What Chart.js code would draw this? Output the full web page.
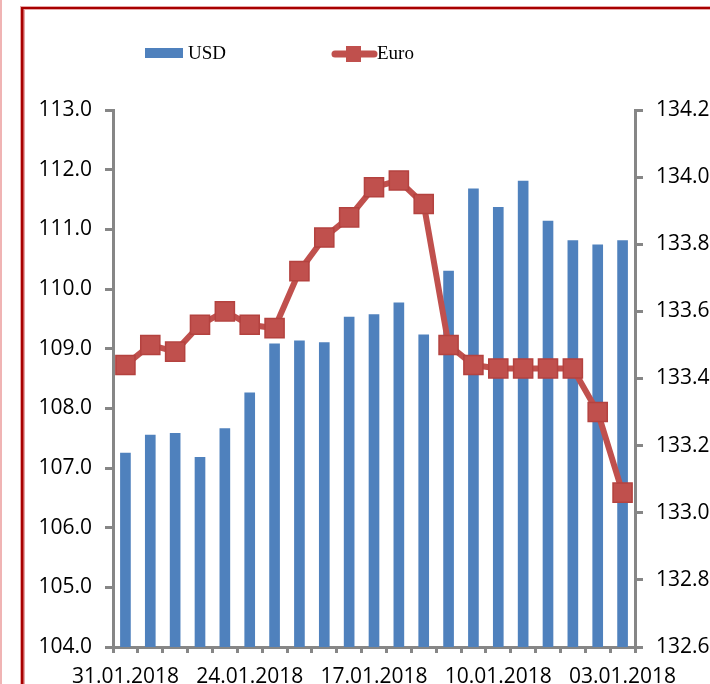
<!DOCTYPE html>
<html>
<head>
<meta charset="utf-8">
<script src="https://cdn.jsdelivr.net/npm/chart.js@4"></script>
<style>
    html, body { margin: 0; padding: 0; background: #fff; }
    canvas { display: block; }
</style>
</head>
<body>
<canvas id="rateChart" width="710" height="684"></canvas>
<script>
// Dates (newest first, as in the original)
const categories = ['31.01.2018', '30.01.2018', '29.01.2018', '26.01.2018', '25.01.2018',
    '24.01.2018', '23.01.2018', '22.01.2018', '19.01.2018', '18.01.2018',
    '17.01.2018', '16.01.2018', '15.01.2018', '12.01.2018', '11.01.2018',
    '10.01.2018', '09.01.2018', '08.01.2018', '05.01.2018', '04.01.2018', '03.01.2018'];

// USD rate (left axis)
const usdValues = [107.25, 107.55, 107.58, 107.18, 107.66, 108.26, 109.08, 109.13, 109.10, 109.53,
    109.57, 109.77, 109.23, 110.30, 111.68, 111.37, 111.81, 111.14, 110.81, 110.74, 110.81];

// Euro rate (right axis)
const euroValues = [133.44, 133.50, 133.48, 133.56, 133.60, 133.56, 133.55, 133.72, 133.82, 133.88,
    133.97, 133.99, 133.92, 133.50, 133.44, 133.43, 133.43, 133.43, 133.43, 133.30, 133.06];

const leftTicks = { min: 104, max: 113, step: 1 };
const rightTicks = { min: 132.6, max: 134.2, step: 0.2 };
const seriesNames = ['USD', 'Euro'];

const blue = '#4f81bd';
const red = '#c0504d';
const axisGrey = '#868686';
const tickFont = { family: 'Open Sans', size: 21 };

// Frame around the picture
const framePlugin = {
    id: 'frame',
    beforeDraw(chart) {
        const ctx = chart.ctx;
        ctx.save();
        ctx.fillStyle = '#fff';
        ctx.fillRect(0, 0, chart.width, chart.height);
        ctx.fillStyle = '#f0b4b4';
        ctx.fillRect(0, 0, 2, chart.height);
        ctx.fillStyle = '#e8a8a8';
        ctx.fillRect(20, 6, chart.width, 4);
        ctx.fillRect(20, 6, 5, chart.height);
        ctx.fillStyle = '#a80000';
        ctx.fillRect(21, 7, chart.width, 2);
        ctx.fillRect(21, 7, 2.5, chart.height);
        ctx.restore();
    }
};

// Legend drawn by hand to keep Excel's spacing
const legendPlugin = {
    id: 'handLegend',
    afterDraw(chart) {
        const ctx = chart.ctx;
        ctx.save();
        ctx.font = '19px "Liberation Serif"';
        ctx.textBaseline = 'middle';

        ctx.fillStyle = blue;
        ctx.fillRect(145, 48, 38, 10);
        ctx.fillStyle = '#000';
        ctx.fillText(seriesNames[0], 188, 54);

        ctx.strokeStyle = red;
        ctx.lineWidth = 7;
        ctx.lineCap = 'round';
        ctx.beginPath();
        ctx.moveTo(335, 54);
        ctx.lineTo(374, 54);
        ctx.stroke();
        ctx.fillStyle = red;
        ctx.fillRect(346, 46, 15, 16);
        ctx.fillStyle = '#000';
        ctx.fillText(seriesNames[1], 377, 54);
        ctx.restore();
    }
};

const ctx = document.getElementById('rateChart').getContext('2d');
const rateChart = new Chart(ctx, {
    data: {
        labels: categories,
        datasets: [
            {
                type: 'line',
                label: seriesNames[1],
                data: euroValues,
                yAxisID: 'y1',
                order: 0,
                borderColor: red,
                borderWidth: 6,
                tension: 0,
                pointStyle: 'rect',
                pointRadius: 13.5,
                pointBorderWidth: 1.5,
                pointBackgroundColor: red,
                pointBorderColor: '#b4423f'
            },
            {
                type: 'bar',
                label: seriesNames[0],
                data: usdValues,
                yAxisID: 'y',
                order: 1,
                backgroundColor: blue,
                barThickness: 10
            }
        ]
    },
    options: {
        responsive: false,
        animation: false,
        devicePixelRatio: 1,
        layout: { padding: { top: 110, left: 0, right: 0, bottom: 0 } },
        plugins: {
            legend: { display: false },
            tooltip: { enabled: false }
        },
        scales: {
            x: {
                offset: true,
                grid: { display: true, offset: true, drawOnChartArea: false, drawTicks: true, tickLength: 6, color: axisGrey, lineWidth: 3 },
                border: { color: axisGrey, width: 3 },
                ticks: {
                    autoSkip: false,
                    maxRotation: 0,
                    padding: 11,
                    color: '#000',
                    font: tickFont,
                    callback: function (value, index) {
                        return index % 5 === 0 ? this.getLabelForValue(value) : '';
                    }
                },
                afterFit: s => { s.height = 37; }
            },
            y: {
                position: 'left',
                min: leftTicks.min,
                max: leftTicks.max,
                grid: { drawOnChartArea: false, tickLength: 8, color: axisGrey, lineWidth: 3 },
                border: { color: axisGrey, width: 3 },
                ticks: {
                    stepSize: leftTicks.step,
                    padding: 13,
                    color: '#000',
                    font: tickFont,
                    callback: v => Number(v).toFixed(1)
                },
                afterFit: s => { s.width = 113; }
            },
            y1: {
                position: 'right',
                min: rightTicks.min,
                max: rightTicks.max,
                grid: { drawOnChartArea: false, tickLength: 8, color: axisGrey, lineWidth: 3 },
                border: { color: axisGrey, width: 3 },
                ticks: {
                    stepSize: rightTicks.step,
                    padding: 13,
                    color: '#000',
                    font: tickFont,
                    callback: v => Number(v).toFixed(1)
                },
                afterFit: s => { s.width = 75; }
            }
        }
    },
    plugins: [framePlugin, legendPlugin]
});
</script>
</body>
</html>
